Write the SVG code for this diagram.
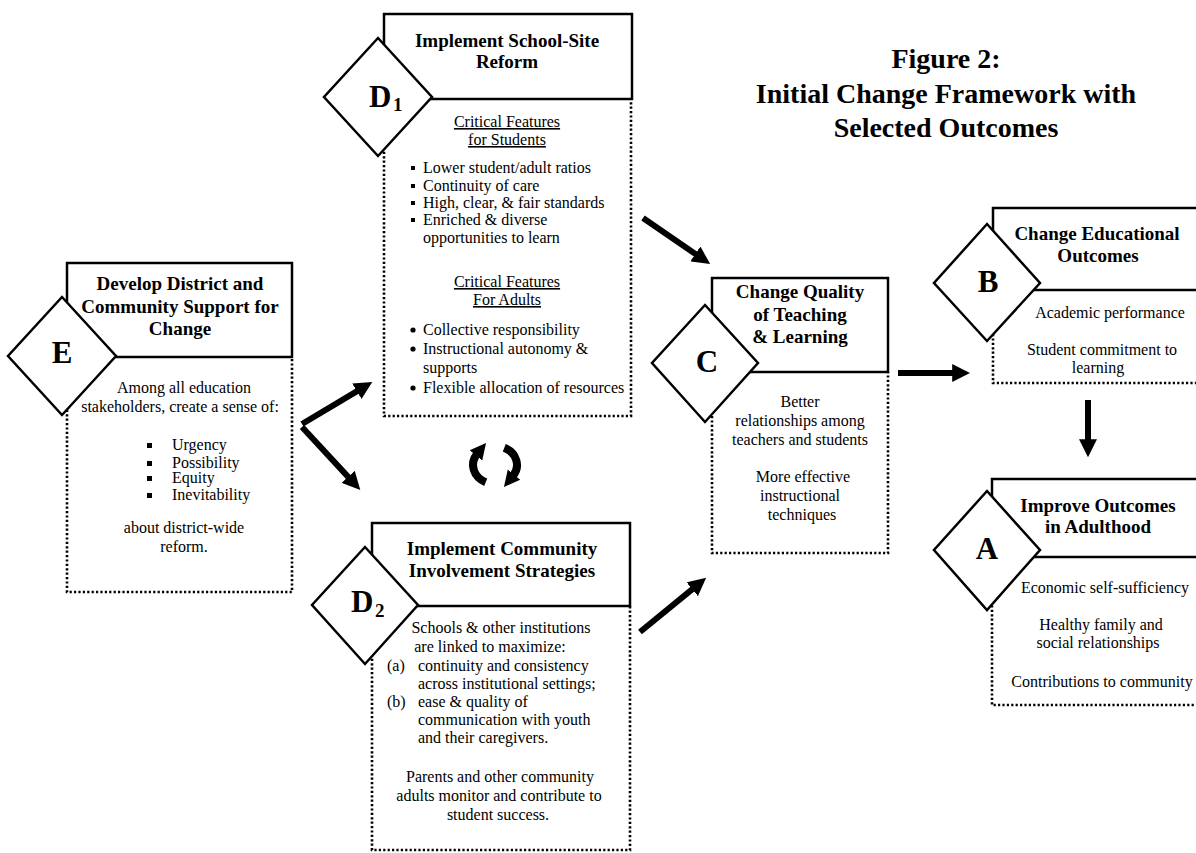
<svg xmlns="http://www.w3.org/2000/svg" width="1196" height="853" viewBox="0 0 1196 853">
<style>
.hdr{fill:#fff;stroke:#000;stroke-width:2.5}
.dot{fill:none;stroke:#000;stroke-width:2.6;stroke-dasharray:2.2 2.2}
.dia{fill:#fff;stroke:#000;stroke-width:2.5}
text{font-family:"Liberation Serif","Times New Roman",serif;fill:#000;font-size:16px}
.h{font-weight:bold;font-size:19px;text-anchor:middle}
.c{text-anchor:middle}
.L{font-weight:bold;font-size:31px}
.sub{font-weight:bold;font-size:19px}
.ttl{font-weight:bold;font-size:28px;text-anchor:middle}
.u{text-decoration:underline}
.arr{stroke:#000;stroke-width:6;fill:none}
.cyc{stroke:#000;stroke-width:8;fill:none}
</style>
<defs>
<marker id="ah" viewBox="0 0 10 10" refX="1" refY="5" markerWidth="3" markerHeight="3" orient="auto"><path d="M0,0 L10,5 L0,10 z" fill="#000"/></marker>
<marker id="ah2" viewBox="0 0 10 10" refX="1" refY="5" markerWidth="2" markerHeight="2.2" orient="auto"><path d="M0,0 L10,5 L0,10 z" fill="#000"/></marker>
</defs>
<rect width="1196" height="853" fill="#fff"/>

<g id="title">
<text class="ttl" x="946" y="68">Figure 2:</text>
<text class="ttl" x="946" y="103">Initial Change Framework with</text>
<text class="ttl" x="946" y="137">Selected Outcomes</text>
</g>

<g id="node-D1">
<path class="dot" d="M384,99 V416 H631 V99"/>
<rect class="hdr" x="384" y="14" width="248" height="85"/>
<polygon class="dia" points="378,38 432,97 378,156 324,97"/>
<text class="L" x="369" y="107">D</text><text class="sub" x="393" y="111">1</text>
<text class="h" x="507" y="47">Implement School-Site</text>
<text class="h" x="507" y="68">Reform</text>
<text class="c u" x="507" y="127">Critical Features</text>
<text class="c u" x="507" y="145">for Students</text>
<rect x="411" y="166" width="4" height="4"/><text x="423" y="173">Lower student/adult ratios</text>
<rect x="411" y="184" width="4" height="4"/><text x="423" y="191">Continuity of care</text>
<rect x="411" y="201" width="4" height="4"/><text x="423" y="208">High, clear, &amp; fair standards</text>
<rect x="411" y="218" width="4" height="4"/><text x="423" y="225">Enriched &amp; diverse</text>
<text x="423" y="243">opportunities to learn</text>
<text class="c u" x="507" y="287">Critical Features</text>
<text class="c u" x="507" y="305">For Adults</text>
<circle cx="413" cy="330" r="2.6"/><text x="423" y="335">Collective responsibility</text>
<circle cx="413" cy="349" r="2.6"/><text x="423" y="354">Instructional autonomy &amp;</text>
<text x="423" y="373">supports</text>
<circle cx="413" cy="388" r="2.6"/><text x="423" y="393">Flexible allocation of resources</text>
</g>

<g id="node-E">
<path class="dot" d="M67,357 V592 H292 V357"/>
<rect class="hdr" x="67" y="263" width="225" height="94"/>
<polygon class="dia" points="62,297 116,356 62,415 8,356"/>
<text class="L c" x="62" y="363">E</text>
<text class="h" x="180" y="290">Develop District and</text>
<text class="h" x="180" y="313">Community Support for</text>
<text class="h" x="180" y="335">Change</text>
<text class="c" x="184" y="393">Among all education</text>
<text class="c" x="180" y="412">stakeholders, create a sense of:</text>
<rect x="147" y="443" width="5" height="5"/><text x="172" y="450">Urgency</text>
<rect x="147" y="461" width="5" height="5"/><text x="172" y="468">Possibility</text>
<rect x="147" y="476" width="5" height="5"/><text x="172" y="483">Equity</text>
<rect x="147" y="493" width="5" height="5"/><text x="172" y="500">Inevitability</text>
<text class="c" x="184" y="533">about district-wide</text>
<text class="c" x="184" y="552">reform.</text>
</g>

<g id="node-D2">
<path class="dot" d="M372,606 V850 H630 V606"/>
<rect class="hdr" x="372" y="523" width="258" height="83"/>
<polygon class="dia" points="365,547 418,605 365,664 312,605"/>
<text class="L" x="351" y="612">D</text><text class="sub" x="375" y="617">2</text>
<text class="h" x="502" y="555">Implement Community</text>
<text class="h" x="502" y="577">Involvement Strategies</text>
<text class="c" x="501" y="633">Schools &amp; other institutions</text>
<text class="c" x="490" y="652">are linked to maximize:</text>
<text x="387" y="671">(a)</text><text x="418" y="671">continuity and consistency</text>
<text x="418" y="689">across institutional settings;</text>
<text x="387" y="707">(b)</text><text x="418" y="707">ease &amp; quality of</text>
<text x="418" y="725">communication with youth</text>
<text x="418" y="743">and their caregivers.</text>
<text class="c" x="500" y="782">Parents and other community</text>
<text class="c" x="499" y="801">adults monitor and contribute to</text>
<text class="c" x="498" y="820">student success.</text>
</g>

<g id="node-C">
<path class="dot" d="M712,372 V553 H888 V372"/>
<rect class="hdr" x="712" y="278" width="176" height="94"/>
<polygon class="dia" points="705,305 758,363 705,422 652,363"/>
<text class="L c" x="707" y="372">C</text>
<text class="h" x="800" y="298">Change Quality</text>
<text class="h" x="800" y="321">of Teaching</text>
<text class="h" x="800" y="343">&amp; Learning</text>
<text class="c" x="800" y="407">Better</text>
<text class="c" x="800" y="426">relationships among</text>
<text class="c" x="800" y="445">teachers and students</text>
<text class="c" x="803" y="482">More effective</text>
<text class="c" x="800" y="501">instructional</text>
<text class="c" x="802" y="520">techniques</text>
</g>

<g id="node-B">
<path class="dot" d="M993,290 V383 H1210"/>
<rect class="hdr" x="993" y="208" width="230" height="82"/>
<polygon class="dia" points="987,224 1040,283 987,341 934,283"/>
<text class="L c" x="988" y="292">B</text>
<text class="h" x="1097" y="240">Change Educational</text>
<text class="h" x="1098" y="262">Outcomes</text>
<text class="c" x="1110" y="318">Academic performance</text>
<text class="c" x="1102" y="355">Student commitment to</text>
<text class="c" x="1098" y="373">learning</text>
</g>

<g id="node-A">
<path class="dot" d="M992,557 V705 H1210"/>
<rect class="hdr" x="992" y="479" width="230" height="78"/>
<polygon class="dia" points="987,491 1040,550 987,610 934,550"/>
<text class="L c" x="987" y="559">A</text>
<text class="h" x="1098" y="512">Improve Outcomes</text>
<text class="h" x="1098" y="533">in Adulthood</text>
<text class="c" x="1105" y="593">Economic self-sufficiency</text>
<text class="c" x="1101" y="630">Healthy family and</text>
<text class="c" x="1098" y="648">social relationships</text>
<text class="c" x="1102" y="687">Contributions to community</text>
</g>

<g id="connectors">
<line class="arr" x1="302" y1="424" x2="358.4" y2="390.4" marker-end="url(#ah)"/>
<line class="arr" x1="302" y1="427" x2="349.3" y2="478.1" marker-end="url(#ah)"/>
<line class="arr" x1="643" y1="218" x2="696.8" y2="254.9" marker-end="url(#ah)"/>
<line class="arr" x1="640" y1="632" x2="693.6" y2="588.1" marker-end="url(#ah)"/>
<line class="arr" x1="898" y1="373" x2="954" y2="373" marker-end="url(#ah)"/>
<line class="arr" x1="1088" y1="400" x2="1088" y2="441" marker-end="url(#ah)"/>
<path class="cyc" d="M485.7,482.2 A22,19 0 0,1 477,454.1" marker-end="url(#ah2)"/>
<path class="cyc" d="M504.3,447.8 A22,19 0 0,1 513,475.9" marker-end="url(#ah2)"/>
</g>
</svg>
